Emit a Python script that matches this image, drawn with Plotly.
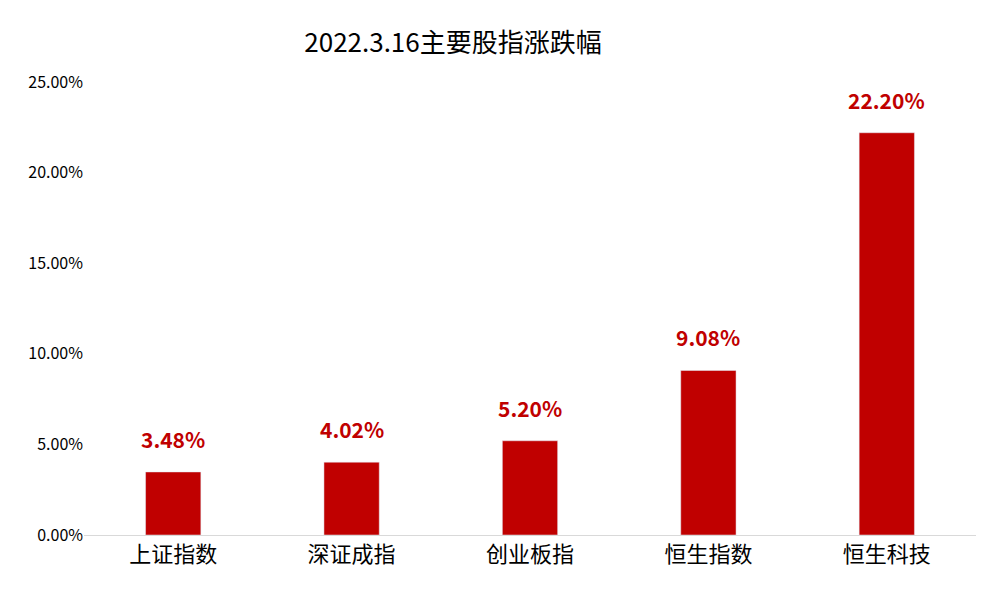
import plotly.graph_objects as go

categories = ["上证指数", "深证成指", "创业板指", "恒生指数", "恒生科技"]
changes = [3.48, 4.02, 5.20, 9.08, 22.20]
tick_vals = [0, 5, 10, 15, 20, 25]
tick_text = ["0.00%", "5.00%", "10.00%", "15.00%", "20.00%", "25.00%"]

font = "Noto Sans CJK SC"

fig = go.Figure(go.Bar(x=categories, y=changes, marker_color="#C00000", width=0.31))

# value labels above bars
for c, v in zip(categories, changes):
    fig.add_annotation(x=c, y=v, text=f"{v:.2f}%", showarrow=False, yanchor="bottom", yshift=16,
                       font=dict(family=font, size=21, color="#C00000", weight="bold"))

fig.update_layout(
    width=1007, height=602,
    margin=dict(l=76, r=39, t=74, b=75),
    plot_bgcolor="white", paper_bgcolor="white",
    title=dict(text="2022.3.16主要股指涨跌幅", x=445 / 1007, xanchor="center", xref="container",
               y=0.942, yanchor="middle", font=dict(family=font, size=26, color="black")),
    showlegend=False,
    font=dict(family=font),
)
fig.update_xaxes(showline=True, linecolor="#D9D9D9", linewidth=1,
                 tickfont=dict(family=font, size=22, color="black"), ticks="")
fig.update_yaxes(range=[0, 25], tickvals=tick_vals, ticktext=tick_text, showgrid=False,
                 zeroline=False, tickfont=dict(family=font, size=16, color="black"))

fig.write_html("out.html")
